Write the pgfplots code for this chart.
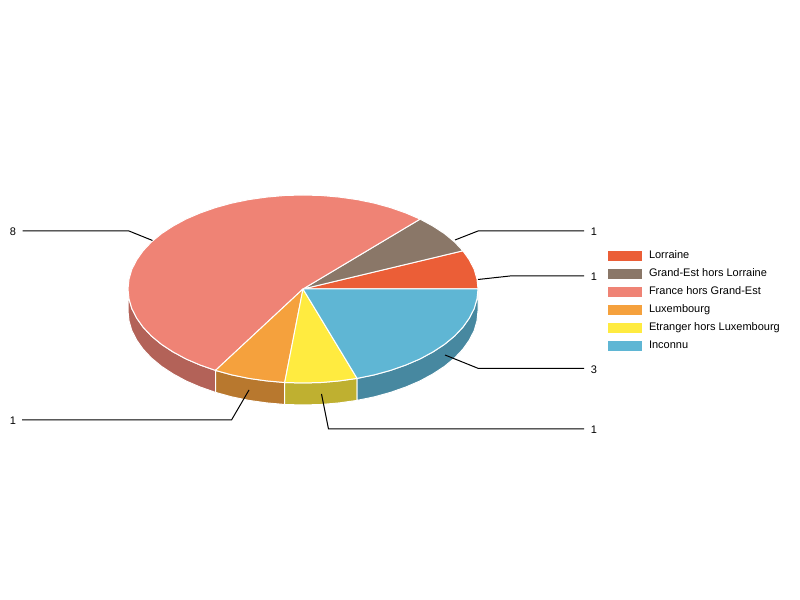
\documentclass[border=0pt]{standalone}
\usepackage{pgfplots}
\pgfplotsset{compat=1.18}
\usepackage{fontspec}
\setmainfont{Liberation Sans}

\definecolor{lorraine}{HTML}{EB5E37}
\definecolor{grandest}{HTML}{8A7768}
\definecolor{france}{HTML}{EF8375}
\definecolor{luxbg}{HTML}{F5A13D}
\definecolor{etranger}{HTML}{FFEB40}
\definecolor{inconnu}{HTML}{5FB6D4}
\definecolor{franceside}{HTML}{B36258}
\definecolor{luxside}{HTML}{B8782E}
\definecolor{etrangerside}{HTML}{BFB030}
\definecolor{inconnuside}{HTML}{4788A0}

\begin{document}
\begin{tikzpicture}[
    pie/.style={fill=#1, draw=white, line width=0.75pt, line join=round},
    lead/.style={draw=black, line width=0.75pt},
    lab/.style={font=\fontsize{8.25pt}{10pt}\selectfont, inner sep=0pt},
]
\useasboundingbox (0,0) rectangle (600pt,450pt);
\begin{axis}[
    scale only axis,
    width=600pt, height=450pt,
    xmin=-303, xmax=497,
    ymin=-311, ymax=289,
    hide axis,
    clip=false,
    legend style={
        at={(axis cs:304,39.5)}, anchor=north west,
        draw=none, fill=none, inner sep=0pt, outer sep=0pt,
        font=\fontsize{8.25pt}{10pt}\selectfont,
        row sep=3.5pt,
        /tikz/column 1/.style={column sep=4.5pt},
        nodes={inner sep=0pt, text height=7pt, text depth=3pt},
    },
    legend cell align=left,
    legend image code/.code={
        \fill[#1] (0pt,-4pt) rectangle (26.25pt,4pt);
    },
]
% side walls, front half only
\addplot[pie=franceside, forget plot] coordinates {
    (-175,0)(-174,-9.8)(-171.2,-19.5)(-166.4,-29)(-159.9,-38.2)(-151.6,-47)
    (-141.6,-55.3)(-130,-62.9)(-117.1,-69.9)(-102.9,-76)(-87.5,-81.4)
    (-87.5,-103.4)(-102.9,-98)(-117.1,-91.9)(-130,-84.9)(-141.6,-77.3)
    (-151.6,-69)(-159.9,-60.2)(-166.4,-51)(-171.2,-41.5)(-174,-31.8)(-175,-22)
} -- cycle;
\addplot[pie=luxside, forget plot] coordinates {
    (-87.5,-81.4)(-71.2,-85.9)(-54.1,-89.4)(-36.4,-91.9)(-18.3,-93.5)
    (-18.3,-115.5)(-36.4,-113.9)(-54.1,-111.4)(-71.2,-107.9)(-87.5,-103.4)
} -- cycle;
\addplot[pie=etrangerside, forget plot] coordinates {
    (-18.3,-93.5)(0,-94)(18.3,-93.5)(36.4,-91.9)(54.1,-89.4)
    (54.1,-111.4)(36.4,-113.9)(18.3,-115.5)(0,-116)(-18.3,-115.5)
} -- cycle;
\addplot[pie=inconnuside, forget plot] coordinates {
    (54.1,-89.4)(71.2,-85.9)(87.5,-81.4)(102.9,-76)(117.1,-69.9)(130,-62.9)
    (141.6,-55.3)(151.6,-47)(159.9,-38.2)(166.4,-29)(171.2,-19.5)(174,-9.8)(175,0)
    (175,-22)(174,-31.8)(171.2,-41.5)(166.4,-51)(159.9,-60.2)(151.6,-69)
    (141.6,-77.3)(130,-84.9)(117.1,-91.9)(102.9,-98)(87.5,-103.4)(71.2,-107.9)(54.1,-111.4)
} -- cycle;

% top face: 1, 1, 8, 1, 1, 3 of 15
\addplot[pie=lorraine] coordinates {
    (0,0)(175,0)(174,9.8)(171.2,19.5)(166.4,29)(159.9,38.2)
} -- cycle;
\addlegendentry{Lorraine}
\addplot[pie=grandest] coordinates {
    (0,0)(159.9,38.2)(151.6,47)(141.6,55.3)(130,62.9)(117.1,69.9)
} -- cycle;
\addlegendentry{Grand-Est hors Lorraine}
\addplot[pie=france] coordinates {
    (0,0)(117.1,69.9)(102.9,76)(87.5,81.4)(71.2,85.9)(54.1,89.4)(36.4,91.9)(18.3,93.5)(0,94)
    (-18.3,93.5)(-36.4,91.9)(-54.1,89.4)(-71.2,85.9)(-87.5,81.4)(-102.9,76)(-117.1,69.9)
    (-130,62.9)(-141.6,55.3)(-151.6,47)(-159.9,38.2)(-166.4,29)(-171.2,19.5)(-174,9.8)(-175,0)
    (-174,-9.8)(-171.2,-19.5)(-166.4,-29)(-159.9,-38.2)(-151.6,-47)(-141.6,-55.3)
    (-130,-62.9)(-117.1,-69.9)(-102.9,-76)(-87.5,-81.4)
} -- cycle;
\addlegendentry{France hors Grand-Est}
\addplot[pie=luxbg] coordinates {
    (0,0)(-87.5,-81.4)(-71.2,-85.9)(-54.1,-89.4)(-36.4,-91.9)(-18.3,-93.5)
} -- cycle;
\addlegendentry{Luxembourg}
\addplot[pie=etranger] coordinates {
    (0,0)(-18.3,-93.5)(0,-94)(18.3,-93.5)(36.4,-91.9)(54.1,-89.4)
} -- cycle;
\addlegendentry{Etranger hors Luxembourg}
\addplot[pie=inconnu] coordinates {
    (0,0)(54.1,-89.4)(71.2,-85.9)(87.5,-81.4)(102.9,-76)(117.1,-69.9)(130,-62.9)
    (141.6,-55.3)(151.6,-47)(159.9,-38.2)(166.4,-29)(171.2,-19.5)(174,-9.8)(175,0)
} -- cycle;
\addlegendentry{Inconnu}

% leader lines
\addplot[lead, forget plot] coordinates {(-280.5,58)(-174,58)(-150.5,48.5)};
\addplot[lead, forget plot] coordinates {(152,49)(175,58)(281,58)};
\addplot[lead, forget plot] coordinates {(175,9.5)(207,13)(281,13)};
\addplot[lead, forget plot] coordinates {(142,-66)(175,-79.3)(281,-79.3)};
\addplot[lead, forget plot] coordinates {(18.5,-105)(25.5,-140)(281,-140)};
\addplot[lead, forget plot] coordinates {(-54,-101)(-71.5,-131)(-281,-131)};

\node[lab] at (axis cs:-290,57) {8};
\node[lab] at (axis cs:291,57) {1};
\node[lab] at (axis cs:291,12) {1};
\node[lab] at (axis cs:291,-80.3) {3};
\node[lab] at (axis cs:291,-141) {1};
\node[lab] at (axis cs:-290,-132) {1};
\end{axis}
\end{tikzpicture}
\end{document}
